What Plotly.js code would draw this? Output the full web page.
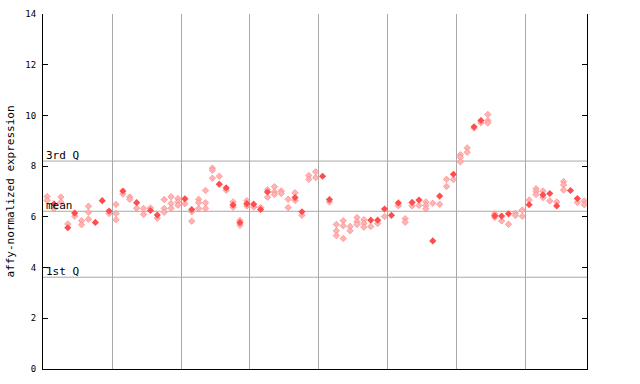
<!DOCTYPE html>
<html>
<head>
<meta charset="utf-8">
<script src="https://cdn.plot.ly/plotly-3.0.1.min.js"></script>
<style>html,body{margin:0;padding:0;background:#fff;}#chart{width:640px;height:384px;}</style>
</head>
<body>
<div id="chart"></div>
<script>
// sample values (one column per sample); filled = highlighted point, rep1..rep3 = other points
const filled = [null,6.51,null,5.57,6.15,null,null,5.78,6.64,6.23,
  null,7.02,null,6.56,null,6.25,6.07,null,null,null,
  6.71,6.29,null,null,null,7.29,7.14,6.47,5.77,6.52,
  6.50,6.29,6.98,null,null,null,6.76,6.20,null,null,
  7.60,6.68,null,null,null,null,null,5.87,5.87,6.31,
  6.06,6.55,null,6.57,6.66,null,5.05,6.82,null,7.68,
  null,null,9.55,9.80,null,6.04,6.03,6.12,null,null,
  6.48,null,6.87,6.92,6.43,null,7.04,6.72,null];
const rep1 = [6.80,6.32,6.78,5.72,6.02,5.85,6.42,null,null,6.13,
  6.49,6.90,6.78,6.34,6.33,6.35,5.95,6.68,6.79,6.72,
  6.52,6.20,6.69,7.04,7.92,7.60,7.05,6.59,5.86,6.64,
  6.39,6.37,7.07,7.19,7.02,6.69,6.95,6.06,7.63,7.78,
  null,6.59,5.70,5.85,5.62,5.97,5.89,5.62,5.74,6.01,
  null,6.44,5.93,6.43,6.45,6.59,6.54,6.50,7.48,7.47,
  8.45,8.72,9.50,9.71,10.04,6.12,5.84,5.71,6.14,6.27,
  6.66,7.11,7.02,6.63,6.59,7.39,null,6.57,6.63];
const rep2 = [6.65,null,6.58,null,null,5.69,6.18,null,null,null,
  6.13,null,6.69,null,6.10,null,null,6.33,6.53,6.59,
  null,5.83,6.56,6.56,7.84,null,null,6.38,5.67,6.43,
  null,null,6.77,6.98,6.92,6.37,6.65,null,7.48,7.55,
  null,null,5.45,5.65,5.45,5.81,5.75,null,null,null,
  null,null,5.79,null,null,6.45,null,null,7.20,null,
  8.35,8.55,null,null,9.80,5.98,null,null,6.05,6.02,
  null,7.00,6.76,null,null,7.26,null,null,6.48];
const rep3 = [null,null,null,null,null,null,5.91,null,null,null,
  5.89,null,null,null,null,null,null,6.18,6.34,6.46,
  null,null,6.33,6.33,7.52,null,null,null,null,null,
  null,null,null,6.88,null,null,null,null,null,null,
  null,null,5.26,5.15,null,5.70,5.60,null,null,null,
  null,null,null,null,null,6.32,null,null,null,null,
  8.17,null,null,null,9.70,null,null,null,null,null,
  null,6.88,null,null,null,7.06,null,null,null];
const refNames = ["3rd Q","mean","1st Q"];
const refValues = [8.2, 6.22, 3.62];
const groupBounds = [9.45,19.45,29.45,39.45,49.45,59.45,69.45];

const idx = filled.map((_, i) => i);
const hatchStyle = {symbol:'diamond', size:5, color:'#ffb4b4', line:{color:'#ff7070', width:0.5}};
const traces = [rep1, rep2, rep3].map(arr => ({
  x: idx, y: arr, type:'scatter', mode:'markers', marker: hatchStyle, hoverinfo:'y'
}));
traces.push({x: idx, y: filled, type:'scatter', mode:'markers',
  marker:{symbol:'diamond', size:5.5, color:'#ff4c4c', line:{width:0}}, hoverinfo:'y'});

const mono = 'DejaVu Sans Mono, monospace';
const layout = {
  width:640, height:384,
  margin:{l:43, r:53, t:14, b:15},
  paper_bgcolor:'#fff', plot_bgcolor:'#fff',
  showlegend:false,
  xaxis:{range:[-0.6,78.4], tickvals:groupBounds, showticklabels:false, ticks:'',
    showgrid:true, gridcolor:'#a8a8a8', gridwidth:1, zeroline:false,
    showline:true, linecolor:'#000', linewidth:1, mirror:false},
  yaxis:{range:[0,14], dtick:2, ticks:'inside', ticklen:5, tickcolor:'#000',
    showgrid:false, zeroline:false, showline:true, linecolor:'#000', linewidth:1,
    mirror:'ticks', ticklabelstandoff:4, tickfont:{family:mono, size:9, color:'#000'},
    title:{text:'affy-normalized expression', font:{family:mono, size:11, color:'#000'}, standoff:8}},
  shapes: refValues.map(v => ({type:'line', xref:'paper', x0:0, x1:1, yref:'y', y0:v, y1:v,
    line:{color:'#a8a8a8', width:1}, layer:'below'})),
  annotations: refValues.map((v,i) => ({xref:'paper', x:0, xanchor:'left', xshift:1,
    yref:'y', y:v, yanchor:'bottom', yshift:-3, text:refNames[i], showarrow:false,
    font:{family:mono, size:11, color:'#000'}}))
};
Plotly.newPlot('chart', traces, layout, {staticPlot:true});
</script>
</body>
</html>
